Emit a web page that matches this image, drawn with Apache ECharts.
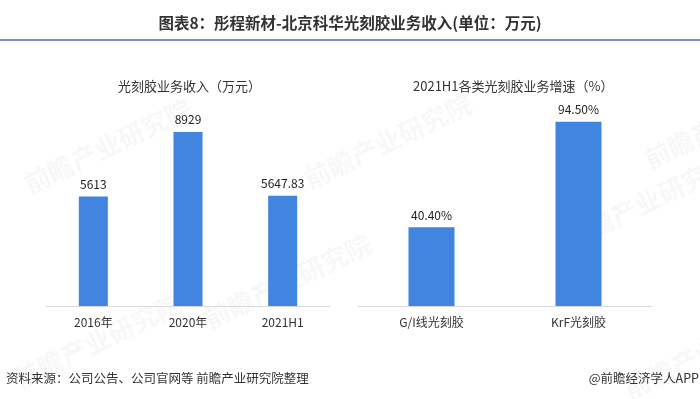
<!DOCTYPE html>
<html>
<head>
<meta charset="utf-8">
<script src="https://cdn.jsdelivr.net/npm/echarts@6/dist/echarts.min.js"></script>
<style>
  html, body { margin: 0; padding: 0; background: #fff; }
  #chart { width: 700px; height: 399px; }
</style>
</head>
<body>
<div id="chart"></div>
<script>
// 左图：光刻胶业务收入（万元）
var incomeYears = ['2016年', '2020年', '2021H1']
var incomeValues = [5613, 8929, 5647.83]
// 右图：2021H1各类光刻胶业务增速（%）
var growthTypes = ['G/I线光刻胶', 'KrF光刻胶']
var growthValues = [40.4, 94.5]

var font = ['Microsoft YaHei', 'Noto Sans CJK SC', 'sans-serif']
var barColor = '#4285e0'

const chart = echarts.init(document.getElementById('chart'))

// 背景水印
var marks = []
;[[20, 95], [200, 230], [560, 150], [300, 90], [640, 70], [10, 290], [620, 300]].forEach(function (p) {
  marks.push({
    type: 'text',
    left: p[0],
    top: p[1],
    rotation: Math.PI / 7,
    z: -10,
    style: {
      text: '前瞻产业研究院',
      fill: 'rgba(0,0,0,0.03)',
      font: 'bold 26px "Noto Sans CJK SC"',
    },
  })
})

var option = {
  backgroundColor: '#fff',
  textStyle: { fontFamily: font },
  title: [
    {
      text: '图表8：彤程新材-北京科华光刻胶业务收入(单位：万元)',
      left: 'center',
      top: 10,
      textStyle: { fontSize: 15.5, fontWeight: 'bold', color: '#333' },
    },
    {
      text: '光刻胶业务收入（万元）',
      left: 113,
      top: 75,
      textStyle: { fontSize: 13, fontWeight: 'normal', color: '#333' },
    },
    {
      text: '2021H1各类光刻胶业务增速（%）',
      left: 408,
      top: 75,
      textStyle: { fontSize: 13, fontWeight: 'normal', color: '#333' },
    },
  ],
  graphic: marks.concat([
    {
      type: 'line',
      shape: { x1: 0, y1: 40, x2: 700, y2: 40 },
      style: { stroke: '#4a6fb5', lineWidth: 1.5 },
    },
    {
      type: 'text',
      left: 6,
      top: 372,
      style: { text: '资料来源：公司公告、公司官网等 前瞻产业研究院整理', fill: '#333', font: '12.5px "Noto Sans CJK SC"' },
    },
    {
      type: 'text',
      right: 1,
      top: 372,
      style: { text: '@前瞻经济学人APP', fill: '#333', font: '12.5px "Noto Sans CJK SC"' },
    },
  ]),
  grid: [
    { left: 46, width: 284, top: 111, height: 195 },
    { left: 358, width: 294, top: 111, height: 195 },
  ],
  xAxis: [
    {
      type: 'category',
      gridIndex: 0,
      data: incomeYears,
      axisLine: { lineStyle: { color: '#d9d9d9' } },
      axisTick: { show: false },
      axisLabel: { color: '#333', fontSize: 12, margin: 10 },
    },
    {
      type: 'category',
      gridIndex: 1,
      data: growthTypes,
      axisLine: { lineStyle: { color: '#d9d9d9' } },
      axisTick: { show: false },
      axisLabel: { color: '#333', fontSize: 12, margin: 10 },
    },
  ],
  yAxis: [
    { type: 'value', gridIndex: 0, min: 0, max: 10000, show: false },
    { type: 'value', gridIndex: 1, min: 0, max: 100, show: false },
  ],
  series: [
    {
      type: 'bar',
      xAxisIndex: 0,
      yAxisIndex: 0,
      data: incomeValues,
      barWidth: 29,
      itemStyle: { color: barColor },
      label: { show: true, position: 'top', distance: 6, color: '#222', fontSize: 12 },
    },
    {
      type: 'bar',
      xAxisIndex: 1,
      yAxisIndex: 1,
      data: growthValues,
      barWidth: 46,
      itemStyle: { color: barColor },
      label: {
        show: true,
        position: 'top',
        distance: 6,
        color: '#222',
        fontSize: 12,
        formatter: function (p) { return p.value.toFixed(2) + '%' },
      },
    },
  ],
}
chart.setOption(option)
</script>
</body>
</html>
